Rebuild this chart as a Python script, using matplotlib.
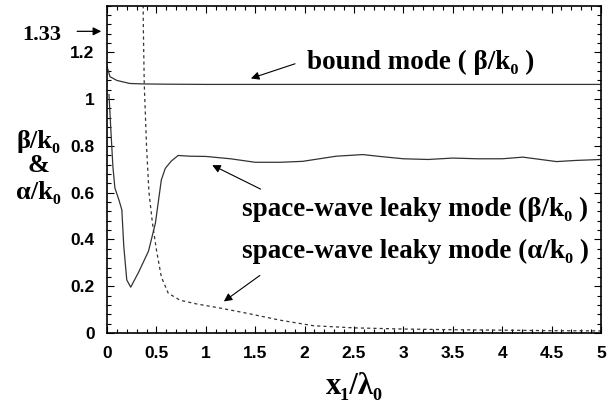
import matplotlib
matplotlib.use("Agg")
import matplotlib.pyplot as plt
from matplotlib.ticker import MultipleLocator

# ---- data ----
bound_x = [0.0, 0.03, 0.1, 0.23, 0.37, 0.6, 1.0, 2.0, 3.0, 4.0, 5.0]
bound_y = [1.14, 1.096, 1.08, 1.067, 1.065, 1.064, 1.063, 1.063, 1.063, 1.063, 1.063]

leaky_beta_x = [0.02, 0.04, 0.06, 0.08, 0.12, 0.15, 0.17, 0.20, 0.24, 0.32, 0.42,
                0.49, 0.55, 0.59, 0.65, 0.72, 0.84, 1.0, 1.25, 1.5, 1.75, 1.98,
                2.32, 2.59, 2.76, 3.0, 3.25, 3.5, 3.75, 4.0, 4.21, 4.55, 4.75, 5.0]
leaky_beta_y = [1.02, 0.86, 0.71, 0.62, 0.57, 0.527, 0.37, 0.227, 0.196, 0.26, 0.35,
                0.47, 0.655, 0.704, 0.735, 0.759, 0.756, 0.755, 0.745, 0.73, 0.73, 0.734,
                0.756, 0.763, 0.755, 0.745, 0.742, 0.748, 0.745, 0.745, 0.752, 0.733, 0.738, 0.742]

leaky_alpha_x = [0.365, 0.368, 0.377, 0.40, 0.425, 0.46, 0.50, 0.55, 0.62, 0.74, 0.91,
                 1.14, 1.41, 1.75, 2.09, 2.5, 3.0, 3.5, 4.0, 4.5, 5.0]
leaky_alpha_y = [1.45, 1.30, 1.066, 0.80, 0.60, 0.47, 0.356, 0.24, 0.17, 0.14, 0.124,
                 0.107, 0.085, 0.055, 0.031, 0.022, 0.017, 0.014, 0.012, 0.010, 0.009]

x_ticks = [0, 0.5, 1, 1.5, 2, 2.5, 3, 3.5, 4, 4.5, 5]
x_ticklabels = ["0", "0.5", "1", "1.5", "2", "2.5", "3", "3.5", "4", "4.5", "5"]
y_ticks = [0, 0.2, 0.4, 0.6, 0.8, 1.0, 1.2]
y_ticklabels = ["0", "0.2", "0.4", "0.6", "0.8", "1", "1.2"]

serif = ["Liberation Serif", "DejaVu Serif"]
sans = ["Liberation Sans", "DejaVu Sans"]

fig = plt.figure(figsize=(6.12, 4.11), dpi=100)
ax = fig.add_axes([107/612, 1 - 333/411, (601-107)/612, (333-5.6)/411])

lc = "#333333"
ax.plot(bound_x, bound_y, color=lc, lw=0.9, solid_joinstyle="round")
ax.plot(leaky_beta_x, leaky_beta_y, color=lc, lw=0.9)
ax.plot(leaky_alpha_x, leaky_alpha_y, color=lc, lw=0.9, linestyle=(0, (2.5, 2.5)))

ax.set_xlim(0, 5)
ax.set_ylim(0, 1.4)
ax.set_xticks(x_ticks)
ax.set_xticklabels(x_ticklabels)
ax.set_yticks(y_ticks)
ax.set_yticklabels(y_ticklabels)
ax.xaxis.set_minor_locator(MultipleLocator(0.1))
ax.yaxis.set_minor_locator(MultipleLocator(0.04))
ax.tick_params(which="both", direction="in", top=True, right=True, width=0.8)
ax.tick_params(which="major", length=5)
ax.tick_params(which="minor", length=3)
ax.tick_params(axis="x", pad=9)
ax.tick_params(axis="y", pad=9)
for lab in ax.get_xticklabels() + ax.get_yticklabels():
    lab.set_fontfamily(sans)
    lab.set_fontweight("bold")
    lab.set_fontsize(12.5)
for s in ax.spines.values():
    s.set_linewidth(1.2)

# axis labels
fig.text(354/612, 1 - 386/411, "x\u2081/\u03bb\u2080", fontsize=22, fontweight="bold",
         family=serif, ha="center", va="center")
fig.text(38/612, 1 - 141/411, "\u03b2/k\u2080", fontsize=19, fontweight="bold",
         family=serif, ha="center", va="center")
fig.text(38/612, 1 - 166/411, "&", fontsize=19, fontweight="bold",
         family=serif, ha="center", va="center")
fig.text(38/612, 1 - 192/411, "\u03b1/k\u2080", fontsize=19, fontweight="bold",
         family=serif, ha="center", va="center")

# 1.33 marker
ax.annotate("", xy=(-0.03, 1.29), xytext=(-0.33, 1.29),
            arrowprops=dict(arrowstyle="-|>", color="black", lw=0.9, mutation_scale=12),
            annotation_clip=False)
ax.text(-0.66, 1.275, "1.33", fontsize=16, fontweight="bold", family=serif,
        ha="center", va="center", clip_on=False)

# annotations
tkw = dict(fontsize=19.5, fontweight="bold", family=serif, va="center", ha="left")
akw = dict(arrowstyle="-|>", color="black", lw=0.8, mutation_scale=12)

ax.text(2.02, 1.155, "bound mode ( \u03b2/k\u2080 )", **tkw)
ax.annotate("", xy=(1.43, 1.085), xytext=(1.93, 1.155), arrowprops=akw)

ax.text(1.37, 0.53, "space-wave leaky mode (\u03b2/k\u2080 )", **tkw)
ax.annotate("", xy=(1.04, 0.723), xytext=(1.58, 0.61), arrowprops=akw)

ax.text(1.37, 0.35, "space-wave leaky mode (\u03b1/k\u2080 )", **tkw)
ax.annotate("", xy=(1.16, 0.128), xytext=(1.57, 0.253), arrowprops=akw)

fig.savefig("out.png", dpi=100)
